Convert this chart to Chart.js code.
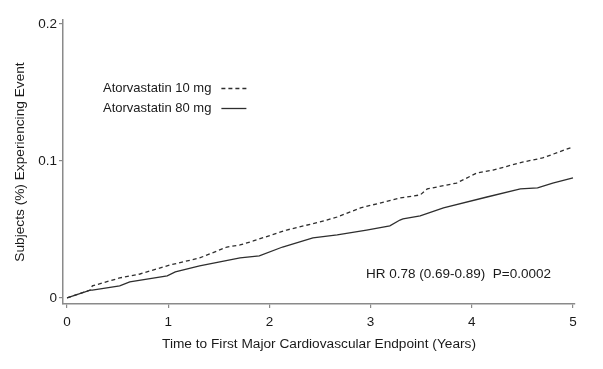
<!DOCTYPE html>
<html>
<head>
<meta charset="utf-8">
<script src="https://cdn.jsdelivr.net/npm/chart.js@4.4.1/dist/chart.umd.min.js"></script>
<style>
html,body{margin:0;padding:0;background:#fff;}
#c{display:block;}
</style>
</head>
<body>
<canvas id="c" width="603" height="369"></canvas>
<script>
// ---- data ----
const seriesLabels = ['Atorvastatin 10 mg', 'Atorvastatin 80 mg'];

const years10 = [0, 0.23, 0.25, 0.52, 0.72, 1.02, 1.31, 1.58, 1.71, 1.84, 2.17, 2.50, 2.67, 2.90, 3.29, 3.49, 3.56, 3.85, 4.05, 4.21, 4.51, 4.70, 4.99];
const rate10  = [0, 0.0058, 0.0088, 0.0146, 0.0175, 0.0241, 0.0292, 0.0372, 0.0387, 0.0416, 0.0496, 0.0555, 0.0591, 0.0657, 0.0730, 0.0752, 0.0796, 0.0839, 0.0912, 0.0934, 0.0993, 0.1022, 0.110];

const years80 = [0, 0.23, 0.25, 0.52, 0.62, 0.99, 1.07, 1.31, 1.51, 1.71, 1.90, 2.13, 2.43, 2.67, 2.96, 3.19, 3.29, 3.32, 3.49, 3.72, 4.15, 4.48, 4.65, 4.80, 5.0];
const rate80  = [0, 0.0058, 0.0058, 0.0088, 0.0117, 0.0161, 0.0190, 0.0234, 0.0263, 0.0292, 0.0307, 0.0372, 0.0438, 0.0460, 0.0496, 0.0526, 0.0569, 0.0577, 0.0599, 0.0657, 0.0737, 0.0796, 0.0803, 0.0839, 0.0876];

const xTickValues = [0, 1, 2, 3, 4, 5];
const xTickLabels = ['0', '1', '2', '3', '4', '5'];
const yTickValues = [0, 0.1, 0.2];
const yTickLabels = ['0', '0.1', '0.2'];

const xTitle = 'Time to First Major Cardiovascular Endpoint (Years)';
const yTitle = 'Subjects (%) Experiencing Event';
const statText = 'HR 0.78 (0.69-0.89)  P=0.0002';

// ---- styles ----
const FONT = '"Liberation Sans", Arial, sans-serif';
const TEXT = '#1a1a1a';
const AXIS = '#8a8a8a';
const LINE = '#2e2e2e';
const DASH = [4, 3];

const toXY = (xs, ys) => xs.map((x, i) => ({x: x, y: ys[i]}));

const bg = {
  id: 'bg',
  beforeDraw(chart) {
    const ctx = chart.ctx;
    ctx.save();
    ctx.fillStyle = '#fff';
    ctx.fillRect(0, 0, chart.width, chart.height);
    ctx.restore();
  }
};

const annot = {
  id: 'annot',
  afterDraw(chart) {
    const ctx = chart.ctx;
    ctx.save();
    ctx.font = '13px ' + FONT;
    ctx.fillStyle = TEXT;
    ctx.textBaseline = 'middle';
    ctx.textAlign = 'left';
    const lx = 103, ly = [88, 108];
    chart.data.datasets.forEach((ds, i) => {
      ctx.fillStyle = TEXT;
      ctx.fillText(ds.label, lx, ly[i]);
      const w = ctx.measureText(ds.label).width;
      ctx.beginPath();
      ctx.strokeStyle = LINE;
      ctx.lineWidth = 1.3;
      ctx.setLineDash(ds.borderDash || []);
      ctx.moveTo(lx + w + 10, ly[i] + 0.5);
      ctx.lineTo(lx + w + 35, ly[i] + 0.5);
      ctx.stroke();
    });
    ctx.setLineDash([]);
    ctx.font = '13.5px ' + FONT;
    ctx.fillStyle = TEXT;
    ctx.fillText(statText, 366, 274);
    ctx.restore();
  }
};

new Chart(document.getElementById('c'), {
  type: 'line',
  data: {
    datasets: [
      {label: seriesLabels[0], data: toXY(years10, rate10), borderColor: LINE, borderWidth: 1.3, borderDash: DASH, pointRadius: 0, tension: 0, fill: false},
      {label: seriesLabels[1], data: toXY(years80, rate80), borderColor: LINE, borderWidth: 1.3, pointRadius: 0, tension: 0, fill: false}
    ]
  },
  options: {
    responsive: false,
    animation: false,
    events: [],
    layout: {padding: {top: 20, right: 28, left: 0, bottom: 0}},
    plugins: {legend: {display: false}, tooltip: {enabled: false}},
    scales: {
      x: {
        type: 'linear',
        min: -0.04,
        max: 5.02,
        afterFit(s) { s.height = 65; },
        afterBuildTicks(s) { s.ticks = xTickValues.map(v => ({value: v})); },
        ticks: {
          padding: 6,
          color: TEXT,
          font: {family: FONT, size: 13.5},
          maxRotation: 0,
          autoSkip: false,
          callback: (v) => xTickLabels[xTickValues.indexOf(v)]
        },
        grid: {display: true, drawOnChartArea: false, drawTicks: true, tickLength: 4, color: AXIS, lineWidth: 1.2},
        border: {display: true, color: AXIS, width: 1.5},
        title: {display: true, text: xTitle, color: TEXT, font: {family: FONT, size: 13.7}, padding: {top: 0, bottom: 17}}
      },
      y: {
        type: 'linear',
        min: -0.0044,
        max: 0.2029,
        afterFit(s) { s.width = 63; },
        afterBuildTicks(s) { s.ticks = yTickValues.map(v => ({value: v})); },
        ticks: {
          padding: 2,
          color: TEXT,
          font: {family: FONT, size: 13.5},
          autoSkip: false,
          callback: (v) => yTickLabels[yTickValues.indexOf(v)]
        },
        grid: {display: true, drawOnChartArea: false, drawTicks: true, tickLength: 4, color: AXIS, lineWidth: 1.2},
        border: {display: true, color: AXIS, width: 1.5},
        title: {display: true, text: yTitle, color: TEXT, font: {family: FONT, size: 13.7}, padding: {top: 12, bottom: 0}}
      }
    }
  },
  plugins: [bg, annot]
});
</script>
</body>
</html>
